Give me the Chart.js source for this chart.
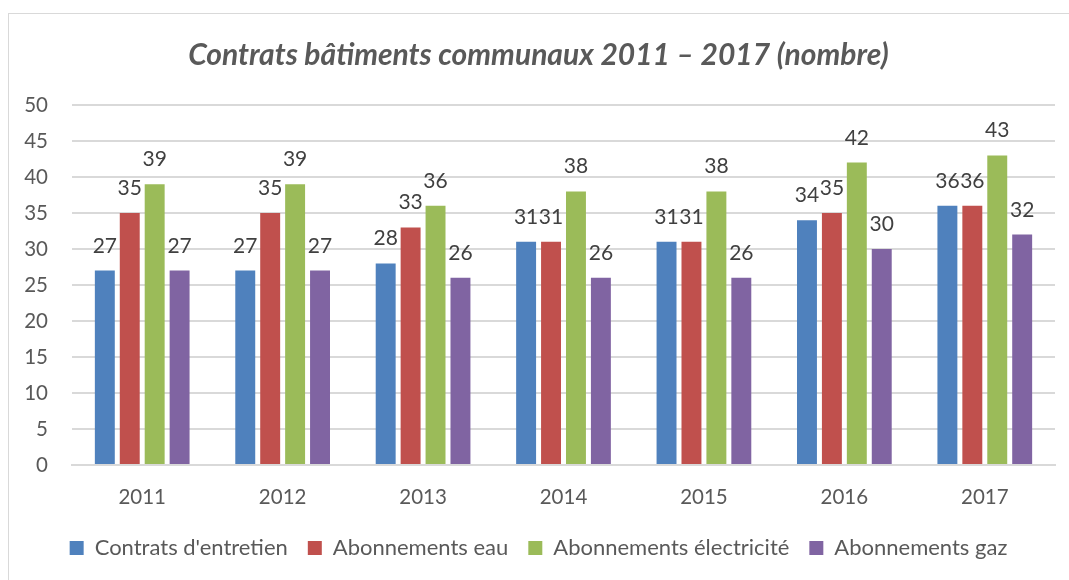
<!DOCTYPE html>
<html>
<head>
<meta charset="utf-8">
<script src="https://cdn.jsdelivr.net/npm/chart.js@4"></script>
<style>
  html, body { margin: 0; padding: 0; background: #fff; }
  #frame { position: absolute; left: 8px; top: 13px; width: 1100px; height: 600px; border: 1px solid #d9d9d9; }
  #wrap { position: absolute; left: 0; top: 0; width: 1069px; height: 580px; }
</style>
</head>
<body>
<div id="frame"></div>
<div id="wrap"><canvas id="chart"></canvas></div>
<script>
const YEARS = ['2011', '2012', '2013', '2014', '2015', '2016', '2017'];
const ENTRETIEN = [27, 27, 28, 31, 31, 34, 36];
const EAU = [35, 35, 33, 31, 31, 35, 36];
const ELECTRICITE = [39, 39, 36, 38, 38, 42, 43];
const GAZ = [27, 27, 26, 26, 26, 30, 32];
const Y_TICKS = [0, 5, 10, 15, 20, 25, 30, 35, 40, 45, 50];

const FONT = 'Lato, "Open Sans", sans-serif';

// étiquettes de valeur au-dessus des barres
const valueLabels = {
    id: 'valueLabels',
    afterDatasetsDraw(chart) {
        const ctx = chart.ctx;
        ctx.save();
        ctx.font = '21px ' + FONT;
        ctx.fillStyle = '#404040';
        ctx.textAlign = 'center';
        ctx.textBaseline = 'alphabetic';
        chart.data.datasets.forEach((ds, i) => {
            chart.getDatasetMeta(i).data.forEach((bar, j) => {
                ctx.fillText(ds.data[j], bar.x, bar.y - 18);
            });
        });
        ctx.restore();
    }
};

new Chart(document.getElementById('chart'), {
    type: 'bar',
    data: {
        labels: YEARS,
        datasets: [
            { label: "Contrats d'entretien", data: ENTRETIEN, backgroundColor: '#4f81bd' },
            { label: 'Abonnements eau', data: EAU, backgroundColor: '#c0504d' },
            { label: 'Abonnements électricité', data: ELECTRICITE, backgroundColor: '#9bbb59' },
            { label: 'Abonnements gaz', data: GAZ, backgroundColor: '#8064a2' }
        ]
    },
    options: {
        responsive: true,
        maintainAspectRatio: false,
        animation: false,
        categoryPercentage: 0.71,
        barPercentage: 0.8,
        layout: { padding: { left: 22, right: 14, top: 0, bottom: 11 } },
        plugins: {
            title: {
                display: true,
                text: 'Contrats bâtiments communaux 2011 – 2017 (nombre)',
                color: '#595959',
                font: { family: FONT, size: 30, weight: 'bold', style: 'italic' },
                padding: { top: 37, bottom: 32 }
            },
            legend: {
                position: 'bottom',
                labels: {
                    color: '#595959',
                    font: { family: FONT, size: 22 },
                    boxWidth: 14,
                    boxHeight: 14,
                    padding: 20
                }
            },
            tooltip: { enabled: false }
        },
        scales: {
            x: {
                grid: { display: false, drawTicks: false },
                border: { color: '#d9d9d9', width: 2 },
                afterFit: s => { s.height = 52; },
                ticks: { color: '#595959', font: { family: FONT, size: 20.5 }, padding: 20 }
            },
            y: {
                min: 0,
                max: 50,
                afterBuildTicks: s => { s.ticks = Y_TICKS.map(v => ({ value: v })); },
                afterFit: s => { s.width = 50; },
                grid: { color: '#d9d9d9', lineWidth: 2, drawTicks: false },
                border: { display: false },
                ticks: { color: '#595959', font: { family: FONT, size: 20.5 }, padding: 24 }
            }
        }
    },
    plugins: [valueLabels]
});
</script>
</body>
</html>
